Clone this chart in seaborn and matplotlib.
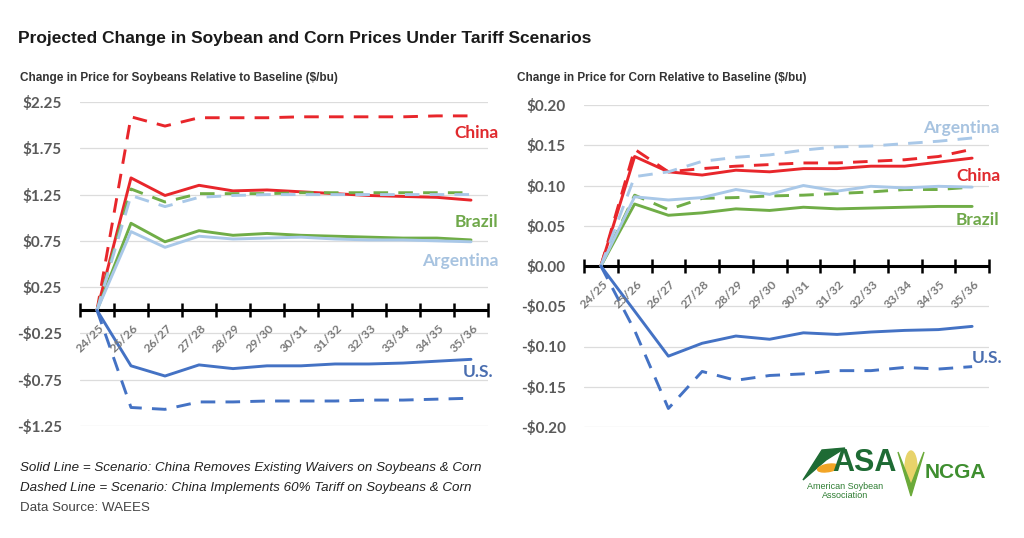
"""Projected change in soybean and corn prices under tariff scenarios."""

import matplotlib
matplotlib.use("Agg")
import matplotlib.pyplot as plt
from matplotlib.patches import Ellipse, Polygon
import numpy as np
import pandas as pd
import seaborn as sns

years = ["24/25", "25/26", "26/27", "27/28", "28/29", "29/30",
         "30/31", "31/32", "32/33", "33/34", "34/35", "35/36"]
countries = ["China", "Brazil", "Argentina", "U.S."]

# soybeans, $/bu change vs baseline
soy_solid = {
    "China":     [0, 1.43, 1.24, 1.35, 1.29, 1.30, 1.28, 1.26, 1.24, 1.23, 1.22, 1.19],
    "Brazil":    [0, 0.94, 0.74, 0.86, 0.81, 0.83, 0.81, 0.80, 0.79, 0.78, 0.78, 0.76],
    "Argentina": [0, 0.85, 0.68, 0.80, 0.77, 0.78, 0.79, 0.77, 0.76, 0.76, 0.75, 0.74],
    "U.S.":      [0, -0.60, -0.71, -0.59, -0.63, -0.60, -0.60, -0.58, -0.58, -0.57, -0.55, -0.53],
}
soy_dashed = {
    "China":     [0, 2.09, 1.99, 2.08, 2.08, 2.08, 2.09, 2.09, 2.09, 2.09, 2.10, 2.10],
    "Brazil":    [0, 1.31, 1.17, 1.26, 1.26, 1.26, 1.27, 1.27, 1.27, 1.27, 1.27, 1.27],
    "Argentina": [0, 1.24, 1.12, 1.22, 1.24, 1.25, 1.25, 1.25, 1.25, 1.25, 1.25, 1.25],
    "U.S.":      [0, -1.05, -1.07, -0.99, -0.99, -0.98, -0.98, -0.98, -0.97, -0.97, -0.96, -0.95],
}

# corn, $/bu change vs baseline
corn_solid = {
    "China":     [0, 0.136, 0.117, 0.113, 0.119, 0.117, 0.121, 0.121, 0.124, 0.124, 0.129, 0.134],
    "Brazil":    [0, 0.077, 0.063, 0.066, 0.071, 0.069, 0.073, 0.071, 0.072, 0.073, 0.074, 0.074],
    "Argentina": [0, 0.086, 0.082, 0.085, 0.095, 0.089, 0.100, 0.093, 0.099, 0.097, 0.099, 0.098],
    "U.S.":      [0, -0.056, -0.112, -0.096, -0.087, -0.091, -0.083, -0.085, -0.082, -0.080, -0.079, -0.075],
}
corn_dashed = {
    "China":     [0, 0.145, 0.117, 0.121, 0.124, 0.126, 0.128, 0.128, 0.130, 0.132, 0.136, 0.145],
    "Brazil":    [0, 0.088, 0.070, 0.084, 0.085, 0.087, 0.088, 0.090, 0.092, 0.095, 0.095, 0.098],
    "Argentina": [0, 0.111, 0.117, 0.130, 0.135, 0.138, 0.144, 0.148, 0.149, 0.152, 0.155, 0.159],
    "U.S.":      [0, -0.080, -0.177, -0.131, -0.142, -0.136, -0.134, -0.130, -0.130, -0.126, -0.128, -0.125],
}

soy_ticks = [-1.25, -0.75, -0.25, 0.25, 0.75, 1.25, 1.75, 2.25]
corn_ticks = [-0.20, -0.15, -0.10, -0.05, 0.00, 0.05, 0.10, 0.15, 0.20]

PALETTE = {"China": "#E8262B", "Brazil": "#70AD47",
           "Argentina": "#A9C8E8", "U.S.": "#4472C4"}
LABEL_COLORS = {"China": "#E02A2E", "Brazil": "#6FA84A",
                "Argentina": "#A7C3E0", "U.S.": "#4A6EB0"}
GRAY = "#595959"


def to_long(solid, dashed):
    rows = []
    for name, vals in [("Dashed", dashed), ("Solid", solid)]:
        for c in countries:
            for y, v in zip(years, vals[c]):
                rows.append({"year": y, "value": v, "country": c, "scenario": name})
    return pd.DataFrame(rows)


def draw_panel(ax, df, ticks, ylim, fmt, labels, title, title_x):
    sns.lineplot(data=df, x="year", y="value", hue="country", style="scenario",
                 palette=PALETTE, dashes={"Solid": "", "Dashed": (5, 3.5)},
                 linewidth=2.1, sort=False, legend=False, ax=ax)
    ax.set_xlim(-0.5, len(years) - 0.5)
    ax.set_ylim(*ylim)
    ax.set_yticks(ticks)
    ax.set_yticklabels([fmt(t) for t in ticks], fontsize=11, fontweight="bold",
                       color=GRAY, family="Lato")
    ax.tick_params(axis="y", length=0, pad=13)
    ax.set_xticks([])
    ax.set_xlabel("")
    ax.set_ylabel("")
    ax.grid(axis="y", color="#DCDCDC", linewidth=0.9)
    ax.grid(axis="x", visible=False)
    for s in ax.spines.values():
        s.set_visible(False)

    # zero axis with cross tick marks between categories
    ax.axhline(0, color="black", linewidth=2.2, zorder=1)
    edges = np.arange(-0.5, len(years), 1.0)
    ax.plot(edges, np.zeros_like(edges), ls="none", marker="|", ms=10,
            mew=1.8, color="black", zorder=1, clip_on=False)
    for i, y in enumerate(years):
        ax.annotate(y, (i, 0), xytext=(1, -9), textcoords="offset points",
                    rotation=45, ha="right", va="top", rotation_mode="anchor",
                    fontsize=8.8, fontweight="bold", color="#7a7a7a", family="Lato")

    for name, (x, y) in labels.items():
        ax.text(x, y, name, ha="right", va="center", fontsize=12.5,
                fontweight="bold", color=LABEL_COLORS[name], family="Lato",
                clip_on=False)

    fig = ax.figure
    fig.text(title_x, 1 - 78 / 538, title, ha="left", va="center",
             fontsize=8.5, fontweight="bold", color="#333333",
             family="Liberation Sans")


def soy_fmt(v):
    return f"${v:.2f}" if v >= 0 else f"-${-v:.2f}"


sns.set_theme(style="white")
plt.rcParams["font.family"] = ["Liberation Sans", "DejaVu Sans"]

fig = plt.figure(figsize=(10.24, 5.38), dpi=100)
ax1 = fig.add_axes([80 / 1024, 1 - 426 / 538, 408 / 1024, 324 / 538])
ax2 = fig.add_axes([584 / 1024, 1 - 427 / 538, 405 / 1024, 322 / 538])

draw_panel(ax1, to_long(soy_solid, soy_dashed), soy_ticks, (-1.25, 2.25), soy_fmt,
           {"China": (11.8, 1.91), "Brazil": (11.8, 0.95),
            "Argentina": (11.8, 0.53), "U.S.": (11.65, -0.67)},
           "Change in Price for Soybeans Relative to Baseline ($/bu)", 20 / 1024)
draw_panel(ax2, to_long(corn_solid, corn_dashed), corn_ticks, (-0.2, 0.2), soy_fmt,
           {"Argentina": (11.8, 0.171), "China": (11.85, 0.112),
            "Brazil": (11.8, 0.057), "U.S.": (11.9, -0.114)},
           "Change in Price for Corn Relative to Baseline ($/bu)", 517 / 1024)

fig.text(18 / 1024, 1 - 38 / 538,
         "Projected Change in Soybean and Corn Prices Under Tariff Scenarios",
         ha="left", va="center", fontsize=12.5, fontweight="bold", color="#1a1a1a")

foot = dict(ha="left", va="center", fontsize=9.6, color="#222222")
fig.text(20 / 1024, 1 - 468 / 538,
         "Solid Line = Scenario: China Removes Existing Waivers on Soybeans & Corn",
         style="italic", **foot)
fig.text(20 / 1024, 1 - 488 / 538,
         "Dashed Line = Scenario: China Implements 60% Tariff on Soybeans & Corn",
         style="italic", **foot)
fig.text(20 / 1024, 1 - 508 / 538, "Data Source: WAEES", ha="left", va="center",
         fontsize=9.6, color="#444444")

# logos (drawn as simple shapes + text)
W, H = 1024, 538
fig.patches.append(Polygon([(803 / W, 1 - 480 / H), (822 / W, 1 - 450 / H),
                            (845 / W, 1 - 448 / H), (826 / W, 1 - 460 / H)],
                           closed=True, transform=fig.transFigure,
                           color="#1E6B34", zorder=2))
fig.patches.append(Ellipse((828 / W, 1 - 468 / H), 22 / W, 7 / H, angle=25,
                           transform=fig.transFigure, color="#F2A526", zorder=3))
fig.text(864 / W, 1 - 463 / H, "ASA", ha="center", va="center", fontsize=22,
         fontweight="bold", color="#1E6B34")
fig.text(845 / W, 1 - 491 / H, "American Soybean\nAssociation", ha="center",
         va="center", fontsize=6.5, color="#2E7D32", linespacing=0.95)
fig.patches.append(Ellipse((911 / W, 1 - 468 / H), 12 / W, 34 / H,
                           transform=fig.transFigure, color="#E8D36A", zorder=2))
fig.patches.append(Polygon([(898 / W, 1 - 452 / H), (911 / W, 1 - 496 / H),
                            (924 / W, 1 - 452 / H), (911 / W, 1 - 485 / H)],
                           closed=True, transform=fig.transFigure,
                           color="#6BAA3A", zorder=3))
fig.text(955 / W, 1 - 472 / H, "NCGA", ha="center", va="center", fontsize=15,
         fontweight="bold", color="#3E8E2F")

fig.savefig("out.png", dpi=100)
